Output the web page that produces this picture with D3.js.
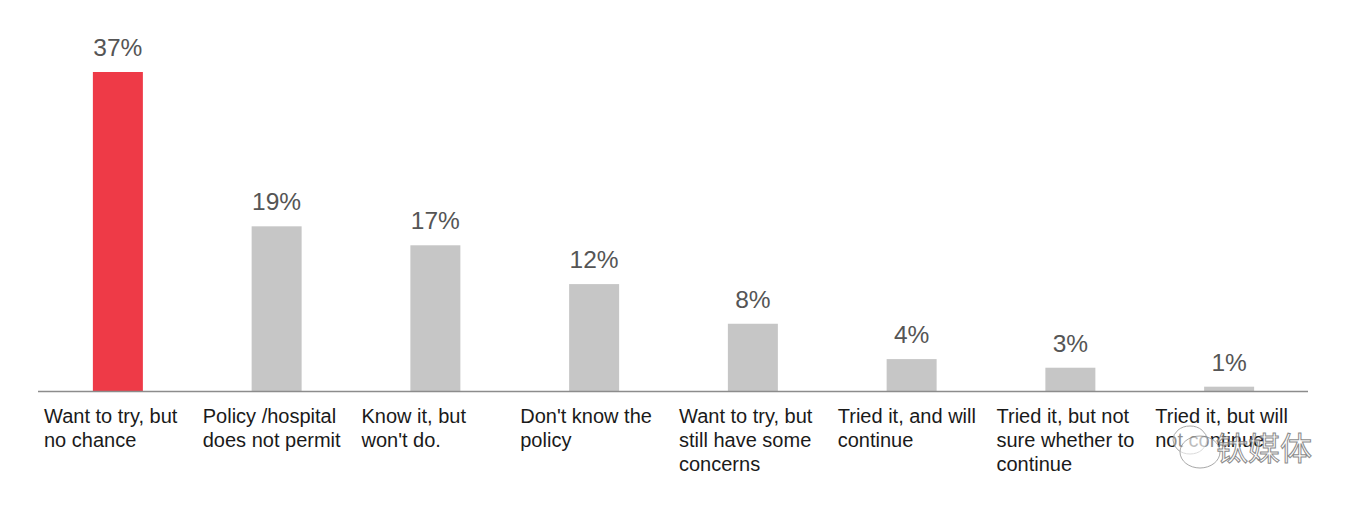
<!DOCTYPE html>
<html><head><meta charset="utf-8">
<script src="https://cdn.jsdelivr.net/npm/d3@7"></script>
<style>html,body{margin:0;padding:0;background:#fff;}</style>
</head><body>
<svg id="c" width="1356" height="506"></svg>
<script>
const categories = [
  ["Want to try, but", "no chance"],
  ["Policy /hospital", "does not permit"],
  ["Know it, but", "won't do."],
  ["Don't know the", "policy"],
  ["Want to try, but", "still have some", "concerns"],
  ["Tried it, and will", "continue"],
  ["Tried it, but not", "sure whether to", "continue"],
  ["Tried it, but will", "not continue"]
];
const values = [37, 19.1, 16.9, 12.4, 7.8, 3.7, 2.7, 0.5];
const valueLabels = ["37%", "19%", "17%", "12%", "8%", "4%", "3%", "1%"];
const highlight = [true, false, false, false, false, false, false, false];

const svg = d3.select("#c");
const left = 38, right = 1308, baseY = 391, topY = 72;
const x = d3.scaleBand().domain(d3.range(categories.length)).range([left, right]).paddingInner(0).paddingOuter(0);
const y = d3.scaleLinear().domain([0, 37]).range([baseY, topY]);
const barW = 50;

svg.selectAll("rect.bar").data(values).enter().append("rect")
  .attr("x", (d, i) => x(i) + x.bandwidth() / 2 - barW / 2 + 0.5)
  .attr("y", d => y(d))
  .attr("width", barW)
  .attr("height", d => baseY - y(d))
  .attr("fill", (d, i) => highlight[i] ? "#EE3A47" : "#C6C6C6");

svg.selectAll("text.val").data(values).enter().append("text")
  .attr("x", (d, i) => x(i) + x.bandwidth() / 2 + 0.5)
  .attr("y", d => y(d) - 16)
  .attr("text-anchor", "middle")
  .attr("font-family", "Liberation Sans, Arial, sans-serif")
  .attr("font-size", 24.5)
  .attr("fill", "#555555")
  .text((d, i) => valueLabels[i]);

svg.append("line").attr("x1", left).attr("x2", right).attr("y1", baseY + 0.5).attr("y2", baseY + 0.5)
  .attr("stroke", "#8c8c8c").attr("stroke-width", 1.5);

categories.forEach((lines, i) => {
  const t = svg.append("text")
    .attr("x", x(i) + 6)
    .attr("y", 423)
    .attr("font-family", "Liberation Sans, Arial, sans-serif")
    .attr("font-size", 20)
    .attr("fill", "#1a1a1a");
  lines.forEach((l, j) => {
    t.append("tspan").attr("x", x(i) + 6).attr("dy", j === 0 ? 0 : 24).text(l);
  });
});

// watermark
const wm = svg.append("g").attr("opacity", 0.85);
wm.append("ellipse").attr("cx", 1190).attr("cy", 440).attr("rx", 17).attr("ry", 14)
  .attr("fill", "rgba(255,255,255,0.6)").attr("stroke", "#999").attr("stroke-width", 1);
wm.append("ellipse").attr("cx", 1200).attr("cy", 452).attr("rx", 20).attr("ry", 16)
  .attr("fill", "rgba(255,255,255,0.6)").attr("stroke", "#999").attr("stroke-width", 1);
wm.append("text").attr("x", 1216).attr("y", 460)
  .attr("font-family", "Noto Sans CJK SC, sans-serif").attr("font-size", 32)
  .attr("fill", "rgba(255,255,255,0.75)").attr("stroke", "#777").attr("stroke-width", 1)
  .text("钛媒体");
</script>
</body></html>
